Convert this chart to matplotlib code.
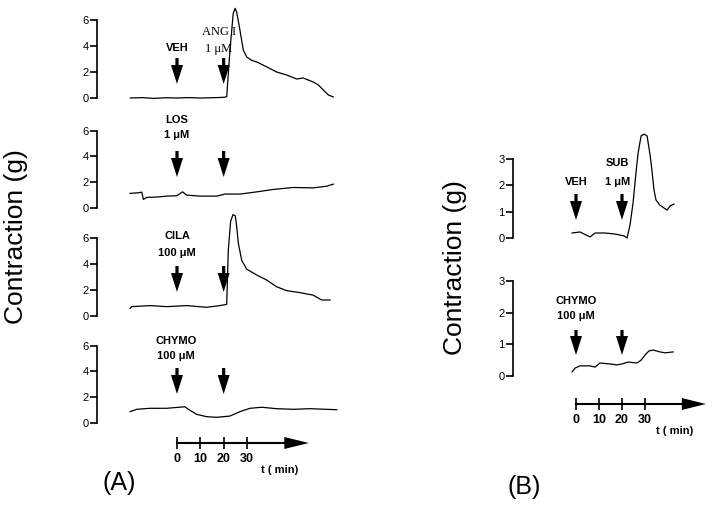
import matplotlib.pyplot as plt

plt.rcParams['font.family'] = ['Liberation Sans', 'DejaVu Sans']

W, H = 714, 507

# stimulus times (min) where the arrows are drawn
stim_t = [0, 20]
time_ticks = [0, 10, 20, 30]

# (A) traces: time (min) and contraction (g)
a1_t = [-20, -15, -10, -5, 0, 5, 10, 15, 20, 21.3, 22.7, 24.1, 24.9, 25.6, 27, 28.4, 29.9,
        32, 34.2, 38.4, 42.7, 47, 51.3, 54.1, 58.4, 60.6, 62.7, 64.9, 67]
a1_g = [0.0, 0.03, -0.03, 0.02, 0.0, 0.03, 0.0, 0.02, 0.05, 0.1, 3.7, 6.5, 6.9, 6.6, 5.2, 3.7, 3.15,
        2.9, 2.77, 2.4, 2.0, 1.77, 1.46, 1.54, 1.23, 1.0, 0.62, 0.23, 0.08]

a2_t = [-20.1, -16.6, -15.1, -14.4, -13, -8.7, -4.4, -0.1, 2.4, 4.1, 9.9, 17, 20.6, 27,
        34.2, 41.3, 49.9, 58.4, 64.2, 67]
a2_g = [1.13, 1.18, 1.23, 0.67, 0.82, 0.85, 0.92, 0.95, 1.25, 1.0, 0.92, 0.92, 1.08, 1.08,
        1.25, 1.44, 1.59, 1.56, 1.69, 1.85]

a3_t = [-20.1, -19.4, -11.6, -4.4, 4.1, 12.7, 18.4, 21.3, 22, 23, 24, 25, 25.5, 26.3, 27.7,
        29.9, 34.2, 38.4, 42.7, 47, 52.7, 58.4, 62, 65.6]
a3_g = [0.59, 0.72, 0.8, 0.72, 0.8, 0.67, 0.8, 0.9, 5.1, 7.3, 7.8, 7.7, 7.0, 5.6, 4.3,
        3.6, 3.15, 2.77, 2.25, 1.95, 1.8, 1.6, 1.23, 1.23]

a4_t = [-20.1, -17.3, -11.6, -4.4, 3.4, 4.9, 8.4, 12.7, 17, 22.7, 27, 31.3, 36.3, 42.7,
        49.9, 57, 64.2, 68.5]
a4_g = [0.88, 1.06, 1.14, 1.14, 1.26, 1.06, 0.67, 0.49, 0.44, 0.54, 0.88, 1.14, 1.22, 1.11,
        1.06, 1.11, 1.06, 1.03]

# (B) traces
b1_t = [-1.7, 1.7, 6.1, 8.3, 12.6, 17, 20.9, 22.2, 23.5, 24.8, 26.1, 27, 28.3, 29.6, 30.9,
        32.2, 33, 33.9, 34.8, 36.5, 38.3, 39.6, 40.9, 42.6]
b1_g = [0.19, 0.23, 0.04, 0.19, 0.19, 0.15, 0.08, 0.0, 0.5, 1.33, 2.5, 3.23, 3.88, 3.95, 3.88,
        3.16, 2.59, 1.83, 1.44, 1.25, 1.14, 1.06, 1.22, 1.29]

b2_t = [-1.7, -0.4, 1.7, 6.1, 8.3, 10.4, 14.8, 17.8, 20, 22.6, 26.5, 28.3, 30, 31.7, 33.5,
        36.5, 38.7, 42.2]
b2_g = [0.13, 0.25, 0.32, 0.32, 0.28, 0.41, 0.38, 0.35, 0.38, 0.44, 0.41, 0.5, 0.66, 0.79, 0.82,
        0.76, 0.73, 0.76]

fig = plt.figure(figsize=(W / 100, H / 100), dpi=100)


def box(x0, y0, x1, y1):
    return [x0 / W, 1 - y1 / H, (x1 - x0) / W, (y1 - y0) / H]


def trace_panel(left, right, t0, ppm, zero, ppg, ticks, t, g, arrow_px, labels):
    ax = fig.add_axes(box(left, zero - 110, right, zero + 6))
    ax.set_xlim((left - t0) / ppm, (right - t0) / ppm)
    ax.set_ylim(-6 / ppg, 110 / ppg)
    ax.patch.set_visible(False)
    for s in ['top', 'right', 'bottom']:
        ax.spines[s].set_visible(False)
    ax.spines['left'].set_bounds(ticks[0], ticks[-1])
    ax.spines['left'].set_linewidth(1.2)
    ax.set_xticks([])
    ax.set_yticks(ticks)
    ax.tick_params(axis='y', length=5, width=1.2, pad=1, labelsize=8)
    ax.plot(t, g, color='k', lw=0.9, clip_on=False)
    ytop, ybot = arrow_px[0] / ppg, arrow_px[1] / ppg
    for s in stim_t:
        ax.arrow(s, ytop, 0, ybot - ytop, width=3.2 / ppm, head_width=12 / ppm,
                 head_length=19 / ppg, length_includes_head=True, fc='k', ec='none',
                 clip_on=False)
    for (x, y, txt, kw) in labels:
        ax.text(x, y / ppg, txt, ha='center', va='center', clip_on=False, **kw)
    return ax


def time_axis(left, right, t0, ppm, y, tlabel_xy):
    ax = fig.add_axes(box(left, y - 10, right, y + 10))
    ax.set_xlim((left - t0) / ppm, (right - t0) / ppm)
    ax.set_ylim(-1, 1)
    ax.patch.set_visible(False)
    for s in ['top', 'right', 'left']:
        ax.spines[s].set_visible(False)
    ax.spines['bottom'].set_position(('data', 0))
    ax.spines['bottom'].set_bounds(0, 47)
    ax.spines['bottom'].set_linewidth(1.5)
    ax.set_yticks([])
    ax.set_xticks(time_ticks)
    ax.set_xticklabels([str(v) for v in time_ticks], fontweight='bold')
    ax.tick_params(axis='x', direction='inout', length=8, width=1.2, pad=3, labelsize=9)
    ax.fill([46, 56.5, 46], [0.6, 0, -0.6], color='k', lw=0, clip_on=False)
    ax.text((tlabel_xy[0] - t0) / ppm, (y - tlabel_xy[1]) / 10, 't ( min)', ha='center',
            va='center', fontsize=8, fontweight='bold', clip_on=False)


bold = dict(fontsize=8, fontweight='bold')
serif = dict(fontsize=9, family='Liberation Serif')

# panel A
tA, pA = 177, 2.333
trace_panel(97, 345, tA, pA, 98, 13, [0, 2, 4, 6], a1_t, a1_g, (40, 14),
            [(0, 50, 'VEH', bold), (18, 66, 'ANG I', serif), (18, 49, '1 \u03bcM', serif)])
trace_panel(97, 345, tA, pA, 208, 12.9, [0, 2, 4, 6], a2_t, a2_g, (57, 31),
            [(0, 88, 'LOS', bold), (0, 73, '1 \u03bcM', bold)])
trace_panel(97, 345, tA, pA, 316, 13, [0, 2, 4, 6], a3_t, a3_g, (50, 24),
            [(0, 80, 'CILA', bold), (0, 63, '100 \u03bcM', bold)])
trace_panel(97, 345, tA, pA, 423, 12.9, [0, 2, 4, 6], a4_t, a4_g, (55, 29),
            [(-0.5, 82, 'CHYMO', bold), (-0.5, 67, '100 \u03bcM', bold)])
time_axis(97, 345, tA, pA, 443, (280, 470))

# panel B
tB, pB = 576, 2.3
trace_panel(513, 712, tB, pB, 238, 26.3, [0, 1, 2, 3], b1_t, b1_g, (44, 18),
            [(0, 56, 'VEH', bold), (18, 75, 'SUB', bold), (18, 56, '1 \u03bcM', bold)])
trace_panel(513, 712, tB, pB, 376, 31.7, [0, 1, 2, 3], b2_t, b2_g, (46, 21),
            [(0, 75, 'CHYMO', bold), (0, 60, '100 \u03bcM', bold)])
time_axis(513, 712, tB, pB, 404, (675, 431))

fig.text(16 / W, 1 - 237 / H, 'Contraction (g)', rotation=90, ha='center', va='center',
         fontsize=19)
fig.text(455 / W, 1 - 268 / H, 'Contraction (g)', rotation=90, ha='center', va='center',
         fontsize=19)
fig.text(119 / W, 1 - 483 / H, '(A)', ha='center', va='center', fontsize=18)
fig.text(524 / W, 1 - 487 / H, '(B)', ha='center', va='center', fontsize=18)

fig.savefig('out.png', dpi=100)
